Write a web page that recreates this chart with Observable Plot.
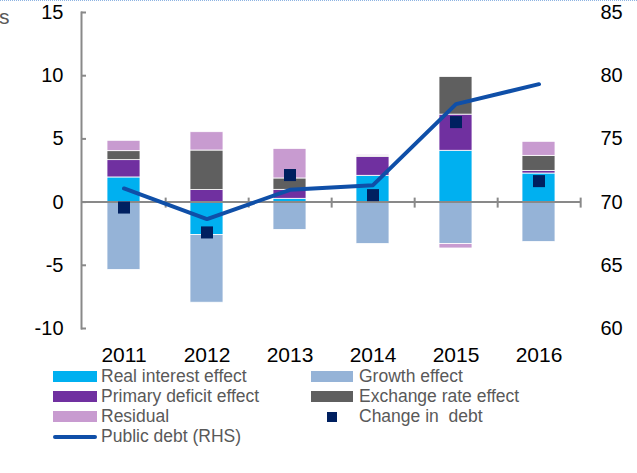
<!DOCTYPE html>
<html><head><meta charset="utf-8">
<script src="https://cdn.jsdelivr.net/npm/d3@7"></script>
<script src="https://cdn.jsdelivr.net/npm/@observablehq/plot@0.6"></script>
<style>
body{margin:0;background:#fff;font-family:"Liberation Sans",Arial,sans-serif;}
#wrap{position:relative;width:637px;height:473px;overflow:hidden;background:#fff;}
#topline{position:absolute;left:0;top:0;width:637px;border-top:1px dotted #8DB3E2;}
#cut{position:absolute;left:-1px;top:5px;font-size:21px;color:#595959;}
#chart{position:absolute;left:0;top:0;}
#legend{position:absolute;left:0;top:366px;width:637px;}
.item{position:absolute;height:20px;display:flex;align-items:center;font-size:17.5px;color:#595959;white-space:pre;}
.sw{display:inline-block;}
</style></head><body>
<div id="wrap"><div id="topline"></div><div id="cut">s</div><div id="chart"></div><div id="legend"></div></div>
<script>
const years = ["2011", "2012", "2013", "2014", "2015", "2016"];
const seriesNames = ["Real interest effect", "Growth effect", "Primary deficit effect", "Exchange rate effect", "Residual"];
const seriesColors = ["#00B0F0", "#95B3D7", "#7030A0", "#5F5F5F", "#C89BD0"];
const realInterest = [1.95, -2.6, 0.26, 2.08, 4.06, 2.26];
const growth = [-5.37, -5.36, -2.2, -3.32, -3.32, -3.16];
const primaryDeficit = [1.37, 0.95, 0.71, 1.48, 2.86, 0.21];
const exchangeRate = [0.71, 3.13, 0.9, 0.1, 2.98, 1.19];
const residual = [0.82, 1.45, 2.34, 0.08, -0.35, 1.11];
const changeInDebt = [-0.43, -2.4, 2.14, 0.55, 6.33, 1.66];
const publicDebt = [71.08, 68.66, 70.97, 71.34, 77.75, 79.33];
const leftTicks = [-10, -5, 0, 5, 10, 15];
const debtOffset = 70;
const changeLabel = "Change in  debt";
const debtLabel = "Public debt (RHS)";
const markerColor = "#002060";
const lineColor = "#0F4FA8";
const axisColor = "#898989";

const seriesValues = [realInterest, growth, primaryDeficit, exchangeRate, residual];
const rows = [];
seriesNames.forEach((s, i) => seriesValues[i].forEach((v, j) => rows.push({year: years[j], series: s, value: v})));
const pts = years.map((y, i) => ({year: y, change: changeInDebt[i], debt: publicDebt[i]}));

const W = 637, H = 362, mL = 81, mR = 56, mT = 12, mB = 34;
const step = (W - mL - mR) / years.length;

const chart = Plot.plot({
  width: W, height: H, marginTop: mT, marginBottom: mB, marginLeft: mL, marginRight: mR,
  style: {fontFamily: "'Liberation Sans', Arial, sans-serif", fontSize: "20px", color: "#000", background: "transparent", overflow: "visible"},
  x: {domain: years, paddingInner: 0.6, paddingOuter: 0.3, label: null},
  y: {domain: [-10, 15], label: null},
  color: {domain: seriesNames, range: seriesColors},
  marks: [
    Plot.barY(rows, {x: "year", y: "value", fill: "series", stroke: "white", strokeWidth: 0.8}),
    Plot.frame({anchor: "left", stroke: axisColor, strokeWidth: 2}),
    Plot.ruleY([0], {stroke: axisColor, strokeWidth: 2}),
    Plot.ruleX(years, {x: d => d, y1: 0, y2: 0, insetTop: -4, insetBottom: -6, dx: step / 2, stroke: axisColor, strokeWidth: 2}),
    Plot.axisY({anchor: "left", ticks: leftTicks, tickSize: -5, tickFormat: () => "", stroke: axisColor, strokeWidth: 2, label: null}),
    Plot.axisY({anchor: "left", ticks: leftTicks, tickSize: 0, tickPadding: 18, tickFormat: d => String(d), fill: "#000", label: null}),
    Plot.axisY({anchor: "right", ticks: leftTicks, tickFormat: d => String(d + debtOffset), tickSize: 0, tickPadding: 19, fill: "#000", label: null}),
    Plot.axisX({tickSize: 0, tickPadding: 18.5, fill: "#000", fontSize: 21, label: null}),
    Plot.line(pts, {x: "year", y: d => d.debt - debtOffset, stroke: lineColor, strokeWidth: 4}),
    Plot.dot(pts, {x: "year", y: "change", symbol: "square", r: 6.8, fill: markerColor})
  ]
});
document.getElementById("chart").appendChild(chart);

// legend
const legendItems = [
  {label: seriesNames[0], type: "bar", color: seriesColors[0]},
  {label: seriesNames[1], type: "bar", color: seriesColors[1]},
  {label: seriesNames[2], type: "bar", color: seriesColors[2]},
  {label: seriesNames[3], type: "bar", color: seriesColors[3]},
  {label: seriesNames[4], type: "bar", color: seriesColors[4]},
  {label: changeLabel, type: "dot", color: markerColor},
  {label: debtLabel, type: "line", color: lineColor}
];
const leg = document.getElementById("legend");
legendItems.forEach((it, i) => {
  const col = i % 2, row = Math.floor(i / 2);
  const d = document.createElement("div");
  d.className = "item";
  d.style.left = (col ? 311 : 53) + "px";
  d.style.top = (row * 20.3) + "px";
  const sw = document.createElement("span");
  sw.className = "sw";
  if (it.type === "bar") {
    sw.style.cssText = `width:${col ? 42 : 44}px;height:11px;background:${it.color};margin-right:${col ? 6 : 4}px;`;
  } else if (it.type === "dot") {
    sw.style.cssText = `width:10px;height:10px;background:${it.color};margin-left:16px;margin-right:22px;`;
  } else {
    sw.style.cssText = `width:44px;height:4px;border-radius:2px;background:${it.color};margin-right:4px;`;
  }
  d.appendChild(sw);
  const t = document.createElement("span");
  t.textContent = it.label;
  d.appendChild(t);
  leg.appendChild(d);
});
</script>
</body></html>
